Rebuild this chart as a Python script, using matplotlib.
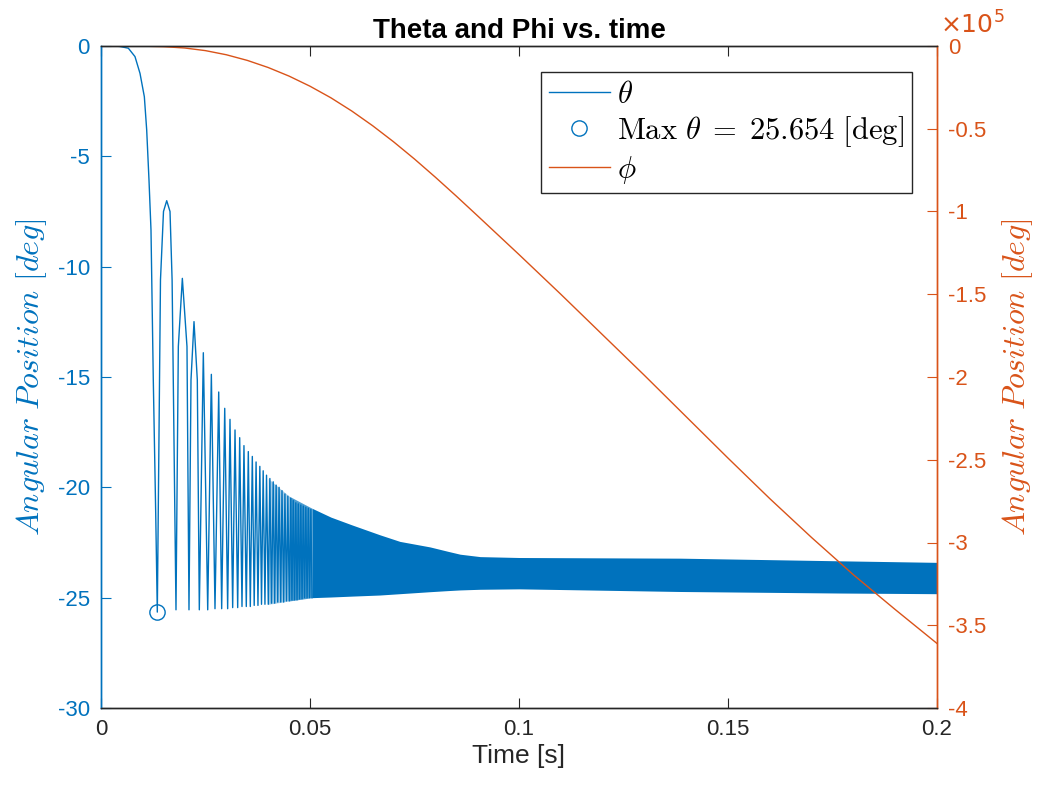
"""
Theta and Phi vs. time, two y axes (MATLAB style look)
"""

import matplotlib.pyplot as plt
import numpy as np
from matplotlib.ticker import FuncFormatter
from matplotlib.lines import Line2D

blue = "#0072BD"
orange = "#D95319"
dark = "#262626"

# theta: first drop and the first three wide arches, read point by point
theta_t_early = [0.0, 0.003, 0.0045, 0.00654, 0.00813, 0.00933, 0.01037,
                 0.01093, 0.01148, 0.01196, 0.01251, 0.01309, 0.01347,
                 0.01423, 0.01495, 0.01572, 0.01651, 0.01701, 0.01794,
                 0.0185, 0.01946, 0.02057, 0.02105,
                 0.02153, 0.02225, 0.02304]
theta_v_early = [0.0, 0.0, -0.02, -0.1, -0.48, -1.24, -2.3,
                 -3.8, -6.07, -8.34, -15.13, -21.2, -25.654,
                 -10.6, -7.5, -7.01, -7.5, -10.6, -25.55,
                 -13.62, -10.53, -13.62, -25.55,
                 -15.13, -12.49, -15.13]

# theta: later cycles (bottom cusps and top peaks)
cusp_t = [0.02352, 0.02553, 0.02727, 0.02887, 0.0303, 0.0315, 0.0327,
          0.03373, 0.03476, 0.03572, 0.03665, 0.03755, 0.0384, 0.03922,
          0.04002, 0.0408, 0.04155, 0.04228, 0.043, 0.0437, 0.04438,
          0.04504, 0.04568, 0.0463, 0.0469, 0.0475, 0.0481, 0.0487,
          0.0493, 0.0499, 0.0505]
cusp_v = [-25.55, -25.55, -25.5, -25.5, -25.5, -25.45, -25.45, -25.4,
          -25.4, -25.4, -25.35, -25.35, -25.3, -25.3, -25.3, -25.25,
          -25.25, -25.2, -25.2, -25.2, -25.15, -25.15, -25.1, -25.1,
          -25.1, -25.05, -25.05, -25.0, -25.0, -25.0, -25.0]
peak_t = [0.02448, 0.0264, 0.02816, 0.0296, 0.03086, 0.03206, 0.03318,
          0.0342, 0.03524, 0.0362, 0.0371, 0.038, 0.0388, 0.0396, 0.0404,
          0.0412, 0.0419, 0.0426, 0.0433, 0.0440, 0.0447, 0.0454, 0.0460,
          0.0466, 0.0472, 0.0478, 0.0484, 0.0490, 0.0496, 0.0502]
peak_v = [-13.9, -14.88, -15.68, -16.42, -16.92, -17.4, -17.75, -18.11,
          -18.38, -18.6, -18.85, -19.05, -19.25, -19.45, -19.6, -19.75,
          -19.9, -20.0, -20.15, -20.3, -20.4, -20.5, -20.6, -20.7, -20.75,
          -20.8, -20.85, -20.9, -20.95, -21.0]

# theta: dense band (upper / lower envelope)
band_t = [0.040, 0.045, 0.0505, 0.055, 0.06, 0.0667, 0.0715, 0.0787,
          0.083, 0.0859, 0.0907, 0.1, 0.1385, 0.1768, 0.2]
band_hi = [-19.6, -20.4, -20.95, -21.35, -21.7, -22.15, -22.45, -22.7,
           -22.9, -23.03, -23.14, -23.18, -23.21, -23.33, -23.4]
band_lo = [-25.3, -25.15, -25.0, -24.97, -24.93, -24.88, -24.82, -24.73,
           -24.68, -24.65, -24.62, -24.6, -24.72, -24.79, -24.82]

max_t = 0.01347
max_v = -25.654

# phi [deg]
phi_t = [0.0, 0.01, 0.015, 0.02, 0.025, 0.03, 0.035, 0.04, 0.045, 0.05,
         0.055, 0.06, 0.065, 0.07, 0.075, 0.08, 0.085, 0.09, 0.1, 0.11,
         0.12, 0.13, 0.14, 0.15, 0.16, 0.17, 0.18, 0.19, 0.2]
phi_v = [0.0, -100, -400, -1200, -2800, -5300, -8700, -13000, -18200,
         -24300, -31300, -39300, -48200, -57900, -68300, -79300, -90700,
         -102400, -126000, -150000, -174500, -199000, -224000, -249000,
         -273500, -297000, -319500, -340500, -361000]


def build_theta():
    t = list(theta_t_early)
    v = list(theta_v_early)
    for i in range(len(peak_t)):
        t += [cusp_t[i], peak_t[i]]
        v += [cusp_v[i], peak_v[i]]
    t.append(cusp_t[-1])
    v.append(cusp_v[-1])
    return np.array(t), np.array(v)


def draw_band(ax):
    # fade the band in where single cycles still show
    bt = np.array(band_t)
    pieces = [(0.040, 0.045, 0.35), (0.045, 0.0505, 0.7), (0.0505, 0.2, 1.0)]
    for t0, t1, alpha in pieces:
        m = (bt >= t0 - 1e-9) & (bt <= t1 + 1e-9)
        ax.fill_between(bt[m], np.array(band_lo)[m], np.array(band_hi)[m],
                        color=blue, alpha=alpha, lw=0)


def main():
    plt.rcParams["font.family"] = ["Liberation Sans", "DejaVu Sans"]
    plt.rcParams["mathtext.fontset"] = "cm"
    plt.rcParams["axes.unicode_minus"] = False

    fig = plt.figure(figsize=(10.37, 7.92), dpi=100)
    ax = fig.add_axes([101 / 1037, 84 / 792, 836 / 1037, 662 / 792])
    ax2 = ax.twinx()

    th_t, th_v = build_theta()
    draw_band(ax)
    ax.plot(th_t, th_v, color=blue, lw=1.0)
    ax.plot([max_t], [max_v], "o", mfc="none", mec=blue, ms=11, mew=1.0)

    ax2.plot(phi_t, phi_v, color=orange, lw=1.0)

    ax.set_xlim(0, 0.2)
    ax.set_ylim(-30, 0)
    ax2.set_ylim(-4e5, 0)
    ax.set_xticks([0, 0.05, 0.1, 0.15, 0.2])
    ax.set_yticks(np.arange(-30, 1, 5))
    ax2.set_yticks(np.arange(-4e5, 1, 0.5e5))
    ax.xaxis.set_major_formatter(FuncFormatter(lambda v, p: "%g" % v))
    ax.yaxis.set_major_formatter(FuncFormatter(lambda v, p: "%g" % v))
    ax2.yaxis.set_major_formatter(
        FuncFormatter(lambda v, p: "%g" % round(v / 1e5, 2)))

    ax.tick_params(axis="x", direction="in", length=7, top=True,
                   labelsize=16, colors=dark, pad=8)
    ax.tick_params(axis="y", direction="in", length=7, labelsize=16,
                   colors=blue, pad=8)
    ax2.tick_params(axis="y", direction="in", length=7, labelsize=16,
                    colors=orange, pad=8)

    for a in (ax, ax2):
        a.spines["top"].set_color(dark)
        a.spines["bottom"].set_color(dark)
        a.spines["left"].set_color(blue)
        a.spines["right"].set_color(orange)
        for s in a.spines.values():
            s.set_linewidth(1.0)

    ax.set_title("Theta and Phi vs. time", fontsize=20, fontweight="bold",
                 pad=6)
    ax.set_xlabel("Time [s]", fontsize=19, color=dark, labelpad=3)
    ax.set_ylabel(r"$Angular\ Position\ [deg]$", fontsize=23, color=blue,
                  labelpad=6)
    ax2.set_ylabel(r"$Angular\ Position\ [deg]$", fontsize=23,
                   color=orange, labelpad=10)

    fig.text(940 / 1037, 1 - 34 / 792, r"$\times10^{5}$", color=orange,
             fontsize=18, math_fontfamily="dejavusans", ha="left",
             va="baseline")

    handles = [Line2D([], [], color=blue, lw=1.0),
               Line2D([], [], ls="none", marker="o", mfc="none", mec=blue,
                      ms=11, mew=1.0),
               Line2D([], [], color=orange, lw=1.0)]
    labels = [r"$\theta$", r"$\mathrm{Max}\ \theta\;=\;25.654\ [\mathrm{deg}]$",
              r"$\phi$"]
    leg = ax2.legend(handles, labels, loc="upper right",
                     bbox_to_anchor=(912 / 1037, 1 - 72 / 792),
                     bbox_transform=fig.transFigure, borderaxespad=0,
                     fontsize=22, frameon=True, fancybox=False,
                     framealpha=1, edgecolor=dark, handlelength=2.0,
                     handletextpad=0.25, labelspacing=0.15, borderpad=0.25)
    leg.get_frame().set_linewidth(1.0)

    fig.savefig("out.png", dpi=100, facecolor="white")


if __name__ == "__main__":
    main()
